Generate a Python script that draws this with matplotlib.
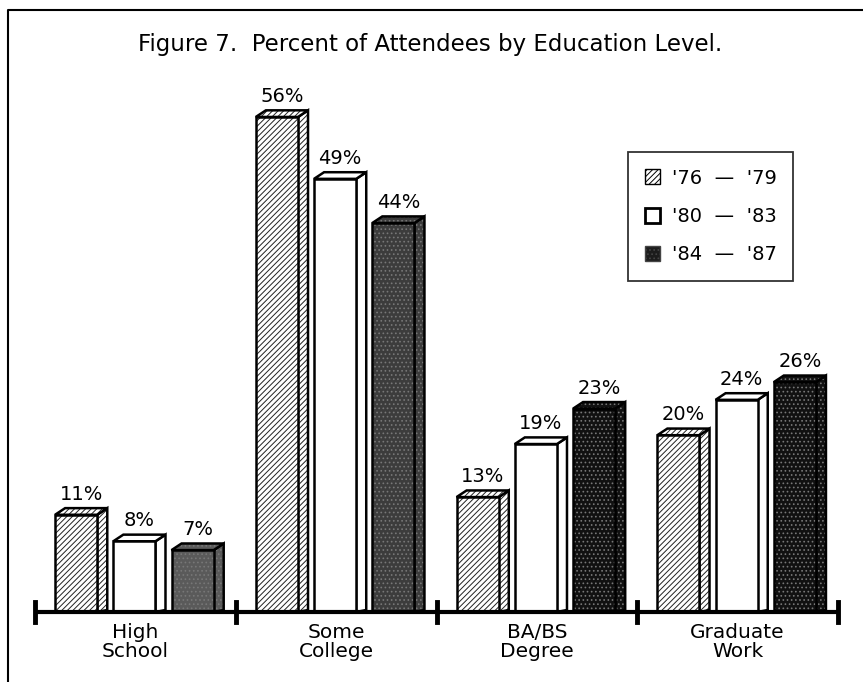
import matplotlib.pyplot as plt
from matplotlib.patches import Polygon, Patch
from matplotlib.lines import Line2D

plt.rcParams["hatch.linewidth"] = 0.7

categories = ["High\nSchool", "Some\nCollege", "BA/BS\nDegree", "Graduate\nWork"]
series_names = ["'76  \u2014  '79", "'80  \u2014  '83", "'84  \u2014  '87"]
p76_79 = [11, 56, 13, 20]
p80_83 = [8, 49, 19, 24]
p84_87 = [7, 44, 23, 26]
values = [p76_79, p80_83, p84_87]

# look of each series: face colour, hatch, hatch colour
styles = [
    ("white", "//////", "#222222"),
    ("white", None, "black"),
    ("#1c1c1c", "....", "#777777"),
]
dark_faces = ["#5a5a5a", "#3c3c3c", "#111111", "#111111"]

W, H = 863, 682
fig = plt.figure(figsize=(W / 100, H / 100), dpi=100)
ax = fig.add_axes([35 / W, 1 - 612 / H, 803 / W, 512 / H])
ax.set_xlim(0, 4)
ax.set_ylim(0, 512 / 8.84)
ax.axis("off")

offsets = [0.10, 0.39, 0.68]
bw = 0.21
dx, dy = 0.05, 0.75


def face(pts, fc, hatch, hc):
    ax.add_patch(Polygon(pts, closed=True, facecolor=fc, hatch=hatch,
                         edgecolor=hc, linewidth=0, clip_on=False))
    ax.add_patch(Polygon(pts, closed=True, fill=False, edgecolor="black",
                         linewidth=1.8, clip_on=False, joinstyle="miter"))


for s, vals in enumerate(values):
    fc, hatch, hc = styles[s]
    for g, v in enumerate(vals):
        x0 = g + offsets[s]
        x1 = x0 + bw
        f = dark_faces[g] if s == 2 else fc
        # side face, top face, front face
        face([(x1, 0), (x1 + dx, dy * 0.3), (x1 + dx, v + dy), (x1, v)], f, hatch, hc)
        face([(x0, v), (x0 + dx, v + dy), (x1 + dx, v + dy), (x1, v)], f, hatch, hc)
        face([(x0, 0), (x0, v), (x1, v), (x1, 0)], f, hatch, hc)
        ax.text(x0 + (bw + dx) / 2, v + dy + 0.5, f"{v}%", ha="center",
                va="bottom", fontsize=14)

# baseline with tick marks
ax.plot([0, 4], [0, 0], color="black", linewidth=3, clip_on=False,
        solid_capstyle="butt")
for t in range(5):
    ax.plot([t, t], [-1.1, 1.1], color="black", linewidth=3.5, clip_on=False)

for g, c in enumerate(categories):
    ax.text(g + 0.5, -1.2, c, ha="center", va="top", fontsize=14.5,
            linespacing=1.0)

fig.text(430 / W, 1 - 45 / H, "Figure 7.  Percent of Attendees by Education Level.",
         ha="center", va="center", fontsize=16.5)

# outer frame (left and top edges only)
fig.add_artist(Line2D([8 / W, 8 / W, 1.0], [0, 1 - 10 / H, 1 - 10 / H],
                      color="black", linewidth=1.5))

handles = [Patch(facecolor=styles[0][0], hatch=styles[0][1], edgecolor="black"),
           Patch(facecolor="white", edgecolor="black", linewidth=2),
           Patch(facecolor="#1c1c1c", hatch="....", edgecolor="#444444")]
leg = fig.legend(handles, series_names, loc="upper left",
                 bbox_to_anchor=(628 / W, 1 - 152 / H), fontsize=14,
                 frameon=True, fancybox=False, edgecolor="black",
                 handlelength=0.8, handleheight=0.8, handletextpad=0.6,
                 labelspacing=1.0, borderpad=0.85, borderaxespad=0)
leg.get_frame().set_linewidth(1.3)

fig.savefig("out.png", dpi=100)
